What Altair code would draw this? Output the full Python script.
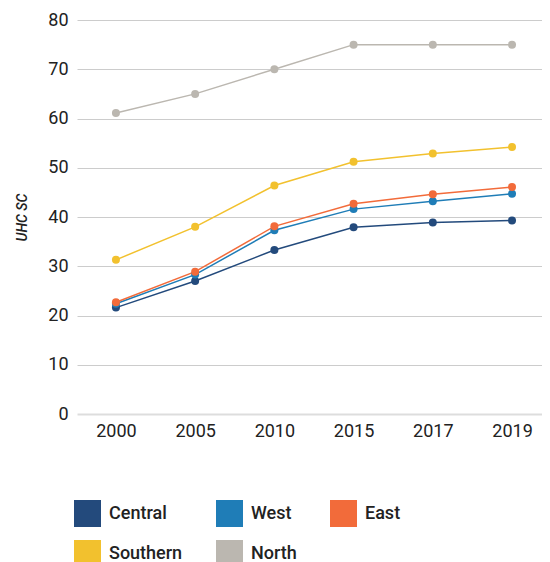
import altair as alt
import pandas as pd

years = ["2000", "2005", "2010", "2015", "2017", "2019"]
regions = ["Central", "West", "East", "Southern", "North"]
colors = ["#234a7c", "#1f7db7", "#f26b3a", "#f2c12e", "#bbb7b0"]
central = [21.6, 27.0, 33.3, 37.9, 38.9, 39.3]
west = [22.4, 28.3, 37.3, 41.6, 43.2, 44.7]
east = [22.7, 28.9, 38.1, 42.7, 44.6, 46.1]
southern = [31.3, 38.0, 46.4, 51.2, 52.9, 54.2]
north = [61.1, 65.0, 70.0, 75.0, 75.0, 75.0]

series = {"Central": central, "West": west, "East": east, "Southern": southern, "North": north}
rows = []
for r in regions:
    for y, v in zip(years, series[r]):
        rows.append({"year": y, "region": r, "value": v})
df = pd.DataFrame(rows)

x = alt.X("year:N", scale=alt.Scale(type="point", padding=0.435, align=0.565), sort=years,
          axis=alt.Axis(title=None, labelAngle=0, domain=False, ticks=False, grid=False,
                        labelFontSize=18, labelColor="#222", labelPadding=8, labelFont="Roboto"))
y = alt.Y("value:Q", scale=alt.Scale(domain=[0, 80]),
          axis=alt.Axis(title="UHC SC", values=list(range(0, 81, 10)), domain=False, ticks=False,
                        gridColor=alt.condition("datum.value === 0", alt.value("#dddddd"), alt.value("#cccccc")),
                        gridWidth=alt.condition("datum.value === 0", alt.value(2), alt.value(1)),
                        labelFontSize=18, labelColor="#222",
                        labelPadding=9, labelFont="Roboto", titleFont="Roboto", titleFontSize=14,
                        titleFontStyle="italic", titleFontWeight=500, titleColor="#222",
                        titlePadding=18))
color = alt.Color("region:N", scale=alt.Scale(domain=regions, range=colors),
                  legend=alt.Legend(title=None, orient="none", legendX=-3, legendY=480, columns=3,
                                    direction="horizontal",
                                    symbolType="square", symbolSize=729, symbolStrokeWidth=0,
                                    labelFontSize=18, labelFont="Roboto", labelFontWeight=500,
                                    labelColor="#222", columnPadding=33, rowPadding=13,
                                    labelOffset=8, symbolOpacity=1))

base = alt.Chart(df).encode(x=x, y=y, color=color, detail="region:N")
lines = base.mark_line(strokeWidth=1.5)
points = base.mark_circle(size=64, opacity=1)

chart = (lines + points).properties(
    width=465, height=394,
    autosize=alt.AutoSizeParams(type="none"),
    padding={"left": 69, "top": 12, "right": 0, "bottom": 160},
).configure_view(stroke=None)

chart.save("out.html", embed_options={"renderer": "svg", "actions": False})
